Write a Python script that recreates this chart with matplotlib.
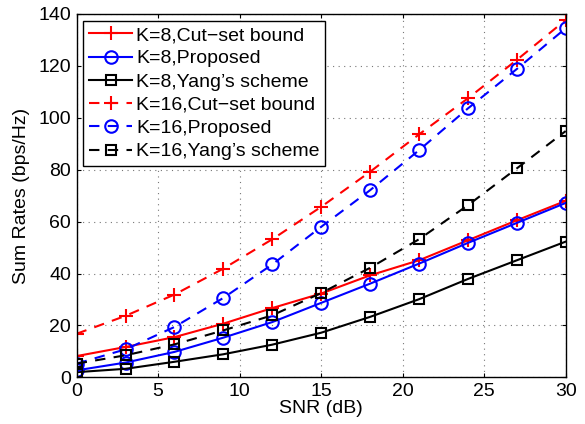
import matplotlib.pyplot as plt

plt.rcParams['font.family'] = ['Liberation Sans', 'DejaVu Sans']

snr = [0, 3, 6, 9, 12, 15, 18, 21, 24, 27, 30]

k8_cutset = [8.2, 11.7, 15.5, 20.7, 26.7, 32.3, 39.3, 45.1, 52.8, 60.5, 68.0]
k8_proposed = [2.7, 5.7, 9.8, 15.3, 21.3, 28.7, 36.1, 43.8, 51.8, 59.5, 67.2]
k8_yang = [2.0, 3.3, 6.0, 8.9, 12.6, 17.2, 23.3, 30.1, 37.9, 45.1, 52.3]
k16_cutset = [16.8, 23.7, 31.9, 41.9, 53.2, 65.7, 79.2, 93.6, 107.5, 122.3, 137.7]
k16_proposed = [5.3, 10.8, 19.4, 30.6, 43.5, 58.0, 72.1, 87.5, 103.6, 118.8, 134.5]
k16_yang = [5.3, 8.5, 12.7, 18.1, 23.9, 32.5, 42.2, 53.2, 66.3, 80.5, 94.9]

fig = plt.figure(figsize=(5.85, 4.24), dpi=100)
ax = fig.add_axes([0.131, 0.110, 0.836, 0.857])

lw = 1.5
dash = (5, 4)
ax.plot(snr, k8_cutset, 'r-', marker='+', ms=10, mew=1.5, lw=lw, label='K=8,Cut\u2212set bound')
ax.plot(snr, k8_proposed, 'b-', marker='o', ms=9, mfc='none', mew=1.5, lw=lw, label='K=8,Proposed')
ax.plot(snr, k8_yang, 'k-', marker='s', ms=7, mfc='none', mew=1.5, lw=lw, label='K=8,Yang\u2019s scheme')
ax.plot(snr, k16_cutset, 'r--', marker='+', ms=10, mew=1.5, lw=lw, dashes=dash, label='K=16,Cut\u2212set bound')
ax.plot(snr, k16_proposed, 'b--', marker='o', ms=9, mfc='none', mew=1.5, lw=lw, dashes=dash, label='K=16,Proposed')
ax.plot(snr, k16_yang, 'k--', marker='s', ms=7, mfc='none', mew=1.5, lw=lw, dashes=dash, label='K=16,Yang\u2019s scheme')

ax.set_xlim(0, 30)
ax.set_ylim(0, 140)
ax.set_xticks(range(0, 31, 5))
ax.set_yticks(range(0, 141, 20))
ax.grid(True, linestyle=(0, (1, 4)), color='#777777', lw=0.8)
ax.tick_params(direction='in', top=True, right=True, labelsize=14, length=3, pad=4)
for s in ax.spines.values():
    s.set_linewidth(1.0)

ax.set_xlabel('SNR (dB)', fontsize=14, labelpad=0)
ax.set_ylabel('Sum Rates (bps/Hz)', fontsize=14, labelpad=6)

leg = ax.legend(loc='upper left', fontsize=14, fancybox=False, framealpha=1,
                edgecolor='black', borderpad=0.3, labelspacing=0.29,
                handlelength=2.2, handletextpad=0.2, borderaxespad=0.35)
leg.get_frame().set_linewidth(1.0)

fig.savefig('out.png', dpi=100)
